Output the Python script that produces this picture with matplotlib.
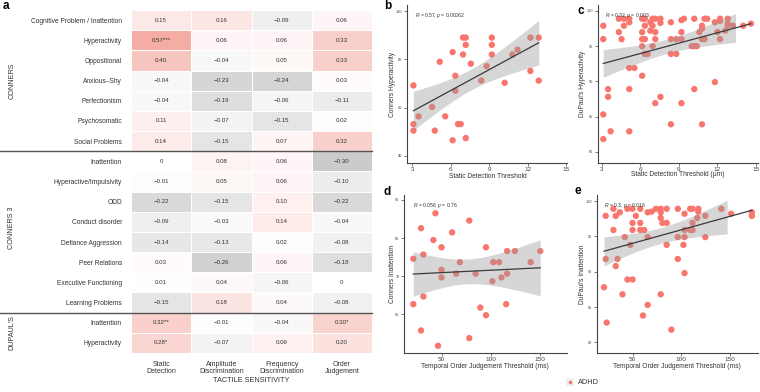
import numpy as np
import matplotlib
matplotlib.use('Agg')
import matplotlib.pyplot as plt
from matplotlib.colors import LinearSegmentedColormap
from matplotlib.lines import Line2D
from matplotlib.patches import Rectangle

plt.rcParams['font.family'] = ['Liberation Sans', 'DejaVu Sans']
plt.rcParams['mathtext.fontset'] = 'custom'
plt.rcParams['mathtext.rm'] = 'Liberation Sans'
plt.rcParams['mathtext.it'] = 'Liberation Sans:italic'

# ---------------- data: heatmap ----------------
row_labels = ["Cognitive Problem / Inattention", "Hyperactivity", "Oppositional", "Anxious\u2013Shy",
              "Perfectionism", "Psychosomatic", "Social Problems",
              "Inattention", "Hyperactive/Impulsivity", "ODD", "Conduct disorder",
              "Defiance Aggression", "Peer Relations", "Executive Functioning", "Learning Problems",
              "Inattention", "Hyperactivity"]
group_labels = ["CONNERS", "CONNERS 3", "DUPAUL'S"]
group_sizes = [7, 8, 2]
col_labels = ["Static\nDetection", "Amplitude\nDiscrimination", "Frequency\nDiscrimination", "Order\nJudgement"]
corr = [
    [0.15, 0.16, -0.09, 0.06],
    [0.57, 0.06, 0.06, 0.33],
    [0.40, -0.04, 0.05, 0.33],
    [-0.04, -0.23, -0.24, 0.03],
    [-0.04, -0.19, -0.06, -0.11],
    [0.11, -0.07, -0.15, 0.02],
    [0.14, -0.15, 0.07, 0.32],
    [0.0, 0.08, 0.06, -0.30],
    [-0.01, 0.05, 0.06, -0.10],
    [-0.22, -0.15, 0.10, -0.22],
    [-0.09, -0.03, 0.14, -0.04],
    [-0.14, -0.13, 0.02, -0.08],
    [0.03, -0.26, 0.06, -0.18],
    [0.01, 0.04, -0.06, 0.0],
    [-0.15, 0.18, 0.04, -0.08],
    [0.32, -0.01, -0.04, 0.30],
    [0.28, -0.07, 0.09, 0.20],
]
stars = [[""] * 4 for _ in range(17)]
stars[1][0] = "***"
stars[15][0] = "**"
stars[15][3] = "*"
stars[16][0] = "*"
x_group_label = "TACTILE SENSITIVITY"

# ---------------- data: scatter panels ----------------
b_x = [3.1, 3.1, 3.1, 3.5, 4.55, 4.76, 5.15, 5.57, 6.15, 6.15, 6.36, 6.36, 6.57, 6.78, 6.96, 7.17,
       6.96, 7.17, 7.17, 7.57, 8.38, 8.8, 9.2, 9.2, 9.2, 10.2, 10.8, 11.2, 12.2, 12.2, 12.85, 12.85]
b_y = [69.2, 53.2, 50.5, 56.4, 60.3, 50.5, 79.0, 56.4, 83.0, 46.5, 73.2, 67.0, 53.2, 53.2, 89.0, 89.0,
       82.0, 86.0, 47.4, 78.2, 71.2, 77.2, 89.0, 86.0, 82.0, 70.3, 82.0, 84.0, 89.0, 75.2, 89.0, 71.2]

c_x = [3.13, 3.13, 4.34, 4.34, 4.55, 4.73, 4.73, 5.15, 5.15, 6.15, 6.15, 6.15, 6.15, 6.36, 6.36, 6.36,
       6.36, 6.57, 6.78, 6.78, 6.96, 6.96, 6.96, 7.17, 7.17, 7.17, 7.57, 7.57, 8.38, 8.38, 8.38, 8.8,
       8.8, 9.2, 9.2, 9.2, 9.4, 10.2, 10.0, 10.2, 10.4, 10.6, 10.8, 10.8, 10.8, 11.0, 11.0, 11.2, 11.8,
       12.0, 12.2, 12.2, 12.2, 12.6, 12.8, 12.8, 12.8, 13.2, 14.0, 14.6,
       5.15, 5.55, 6.15, 3.5, 3.5, 5.15, 7.57, 7.17, 9.2, 10.2, 11.8, 3.13, 3.7, 3.13, 5.15, 8.38, 10.8]
c_y = [97.9, 96.0, 98.9, 97.0, 96.0, 98.9, 97.9, 98.9, 98.4, 98.9, 97.0, 96.0, 95.0, 98.9, 97.9, 96.0,
       93.9, 93.9, 98.4, 97.2, 98.9, 97.9, 95.0, 98.9, 97.0, 96.0, 98.9, 98.3, 98.4, 96.0, 93.9, 96.0,
       93.9, 96.0, 97.0, 98.7, 98.9, 98.9, 95.0, 95.0, 95.0, 97.0, 97.9, 97.5, 96.0, 98.9, 96.0, 98.9, 98.4,
       97.0, 98.9, 98.6, 96.0, 97.2, 98.9, 98.2, 97.9, 97.9, 97.9, 98.2,
       91.9, 91.9, 90.8, 88.9, 87.8, 88.9, 87.8, 86.9, 86.9, 88.9, 89.9, 85.3, 82.9, 81.8, 82.9, 83.9, 83.9]

d_x = [20.9, 20.9, 28.8, 28.8, 31.2, 31.2, 41.4, 43.5, 46.2, 49.7, 49.7, 49.7, 60.6, 64.7, 68.5, 78.1,
       78.1, 84.6, 89.4, 95.2, 95.2, 101.7, 102.7, 108.6, 111.0, 116.8, 116.8, 115.8, 124.7, 140.8, 150.7]
d_y = [74.6, 62.7, 82.6, 55.8, 75.7, 64.7, 79.5, 86.5, 51.8, 77.6, 71.7, 69.7, 81.5, 70.7, 73.7, 84.6,
       53.8, 70.7, 61.8, 59.8, 77.6, 68.7, 73.7, 73.7, 69.7, 76.6, 70.7, 62.7, 76.6, 73.7, 76.6]

e_x = [22.5, 22.5, 20.8, 23.5, 30.4, 30.4, 32.8, 32.8, 34.6, 37.0, 39.7, 42.1, 44.8, 44.8, 47.6, 50.0,
       50.0, 50.0, 50.0, 53.4, 57.9, 57.9, 57.9, 62.0, 60.7, 65.5, 65.5, 65.5, 69.6, 74.0, 78.9, 78.9,
       78.9, 78.9, 80.6, 85.0, 85.0, 85.0, 89.8, 96.4, 96.4, 96.4, 102.2, 103.3, 103.3, 103.3, 103.3,
       109.1, 109.1, 111.5, 111.5, 111.5, 117.4, 117.4, 116.3, 124.6, 124.6, 141.0, 151.0, 172.3, 172.3]
e_y = [97.9, 91.8, 87.8, 82.8, 98.9, 95.9, 97.9, 90.8, 91.8, 98.4, 86.8, 94.9, 98.9, 88.9, 93.8, 98.9,
       96.9, 95.9, 88.9, 97.9, 98.9, 96.9, 95.9, 95.9, 83.8, 85.3, 98.4, 94.9, 98.5, 98.9, 98.9, 98.4,
       97.6, 86.8, 96.9, 98.9, 96.9, 93.8, 81.8, 98.9, 94.9, 91.8, 93.8, 89.8, 98.2, 95.9, 94.9,
       98.9, 95.9, 98.9, 96.9, 95.9, 98.9, 98.5, 97.6, 97.9, 94.9, 98.9, 98.2, 98.4, 97.9]

stat_b = "$\\it{R}$ = 0.57, $\\it{p}$ = 0.00062"
stat_c = "$\\it{R}$ = 0.32, $\\it{p}$ = 0.003"
stat_d = "$\\it{R}$ = 0.056, $\\it{p}$ = 0.76"
stat_e = "$\\it{R}$ = 0.3, $\\it{p}$ = 0.016"
legend_label = "ADHD"

# ---------------- figure ----------------
W, H = 760, 392
fig = plt.figure(figsize=(7.6, 3.92), dpi=100)
TXT = '#333333'


def fx(px):
    return px / W


def fy(py):
    return 1 - py / H


def axrect(x0, y0, x1, y1):
    return [x0 / W, 1 - y1 / H, (x1 - x0) / W, (y1 - y0) / H]


# ---- panel a: heatmap ----
ax = fig.add_axes(axrect(131, 10, 372, 353))
vals = np.array(corr)
cmap = LinearSegmentedColormap.from_list('gw', [(0, '#969696'), (0.5, '#ffffff'), (1, '#f3a89f')])
nr, nc = vals.shape
ax.pcolormesh(np.arange(nc + 1), np.arange(nr + 1), vals, cmap=cmap, vmin=-0.6, vmax=0.6,
              edgecolors='white', linewidth=0.45)
ax.set_xlim(0, nc)
ax.set_ylim(nr, 0)
for i in range(nr):
    for j in range(nc):
        v = vals[i, j]
        s = "0" if v == 0 else f"{v:.2f}".replace('-', '\u2212')
        ax.text(j + 0.5, i + 0.5, s + stars[i][j], ha='center', va='center', fontsize=4.4, color=TXT)
ax.set_yticks(np.arange(nr) + 0.5)
ax.set_yticklabels(row_labels, fontsize=4.8, color=TXT)
ax.set_xticks(np.arange(nc) + 0.5)
ax.set_xticklabels(col_labels, fontsize=5, color=TXT, linespacing=1.0)
ax.tick_params(axis='y', length=0, pad=6.5)
ax.tick_params(axis='x', length=0, pad=5.5)
for sp in ax.spines.values():
    sp.set_visible(False)

row_h = (353 - 10) / nr
start = 0
for k, (g, n) in enumerate(zip(group_labels, group_sizes)):
    if k > 0:
        yy = 10 + start * row_h
        fig.add_artist(Line2D([0, fx(372)], [fy(yy), fy(yy)], color='#555555', lw=1.0))
    cy = 10 + (start + n / 2) * row_h
    if g == "CONNERS 3":
        cy -= 4
    fig.text(fx(12), fy(cy), g, rotation=90, ha='center', va='center', fontsize=5.2, color=TXT)
    start += n
fig.text(fx(251), fy(380), x_group_label, ha='center', va='center', fontsize=5.3, color=TXT)


# ---- scatter panels ----
def panel(rect, x, y, xlim, ylim, xticks, yticks, band_max, stat, stat_px, xlabel, xlabel_px, ylabel, ylabel_px):
    a = fig.add_axes(axrect(*rect))
    x = np.asarray(x, float)
    y = np.asarray(y, float)
    a.scatter(x, y, s=21, color='#F8766D', edgecolors='none', zorder=2)
    n = len(x)
    slope, icpt = np.polyfit(x, y, 1)
    res = y - (slope * x + icpt)
    sres = np.sqrt(np.sum(res ** 2) / (n - 2))
    sxx = np.sum((x - x.mean()) ** 2)
    tq = 1.96 + 2.4 / (n - 2)
    xb = np.linspace(x.min(), band_max, 100)
    fb = slope * xb + icpt
    se = sres * np.sqrt(1 / n + (xb - x.mean()) ** 2 / sxx)
    a.fill_between(xb, fb - tq * se, fb + tq * se, color='#999999', alpha=0.4, lw=0, zorder=3)
    xl = np.array([x.min(), x.max()])
    a.plot(xl, slope * xl + icpt, color='#3a3a3a', lw=0.9, zorder=4)
    a.set_xlim(*xlim)
    a.set_ylim(*ylim)
    a.set_xticks(xticks)
    a.set_yticks(yticks)
    a.tick_params(axis='x', labelsize=4.6, length=2, width=0.5, pad=1.2, colors='#444444', labelcolor='#444444')
    a.tick_params(axis='y', labelsize=2.8, length=2, width=0.5, pad=1.2, colors='#444444', labelcolor='#444444')
    for s in ['top', 'right']:
        a.spines[s].set_visible(False)
    for s in ['left', 'bottom']:
        a.spines[s].set_color('#444444')
        a.spines[s].set_linewidth(0.8)
    a.patch.set_alpha(0)
    fig.text(fx(stat_px[0]), fy(stat_px[1]), stat, ha='left', va='center', fontsize=3.6, color=TXT)
    fig.text(fx(xlabel_px[0]), fy(xlabel_px[1]), xlabel, ha='center', va='center', fontsize=4.8, color=TXT)
    fig.text(fx(ylabel_px[0]), fy(ylabel_px[1]), ylabel, ha='center', va='center', rotation=90,
             fontsize=4.8, color=TXT)
    return a


panel((407, 5, 567, 163), b_x, b_y, (2.6, 15.05), (37.1, 102.5), [3, 6, 9, 12, 15], [40, 60, 80, 100],
      max(b_x), stat_b, (415, 16), "Static Detection Threshold", (488, 177), "Conners Hyperactivity", (392, 84))
panel((598, 5, 758, 163), c_x, c_y, (2.72, 15.15), (78.4, 100.85), [3, 6, 9, 12, 15], [80, 85, 90, 95, 100],
      13.4, stat_c, (605, 15), "Static Detection Threshold (\u03bcm)", (678, 175), "DuPaul's Hyperactivity", (582, 84))
panel((404, 195, 567, 353), d_x, d_y, (11.4, 178), (49.9, 91.3), [50, 100, 150], [60, 70, 80, 90],
      max(d_x), stat_d, (413, 206), "Temporal Order Judgement Threshold (ms)", (485, 367), "Conners Inattention", (392, 274))
panel((597, 195, 758, 353), e_x, e_y, (13.6, 178.6), (78.5, 100.85), [50, 100, 150], [80, 85, 90, 95, 100],
      147, stat_e, (604, 205), "Temporal Order Judgement Threshold (ms)", (677, 367), "DuPaul's Inattention", (582, 274))

# panel letters
for L, (px, py) in zip("abcde", [(6, 6), (388, 6), (581, 11), (387, 192), (578, 191)]):
    fig.text(fx(px), fy(py), L, ha='center', va='center', fontsize=8.5, fontweight='bold', color='black')

# legend
fig.add_artist(Rectangle((fx(566), fy(386)), 8 / W, 8 / H, transform=fig.transFigure,
                         facecolor='#f0f0f0', edgecolor='none'))
fig.add_artist(Line2D([fx(570)], [fy(382)], marker='o', markersize=1.6, color='#F8766D', lw=0))
fig.text(fx(578), fy(382), legend_label, ha='left', va='center', fontsize=5.3, color=TXT)

fig.savefig('out.png', dpi=100)
